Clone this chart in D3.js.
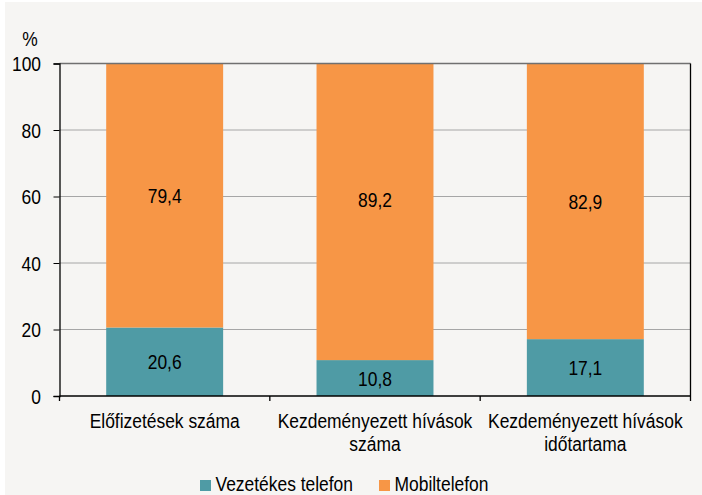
<!DOCTYPE html>
<html>
<head>
<meta charset="utf-8">
<script src="https://cdn.jsdelivr.net/npm/d3@7"></script>
<style>
  body { margin: 0; background: #fff; }
  svg text { font-family: "Liberation Sans", Arial, sans-serif; fill: #000; }
</style>
</head>
<body>
<div class="container"></div>
<script>
// data
const categories = [
  ["Előfizetések száma"],
  ["Kezdeményezett hívások", "száma"],
  ["Kezdeményezett hívások", "időtartama"]
]
const seriesNames = ["Vezetékes telefon", "Mobiltelefon"]
const vezetekes = [20.6, 10.8, 17.1]
const mobil = [79.4, 89.2, 82.9]
const yTicks = [0, 20, 40, 60, 80, 100]
const colors = ["#4f9ba5", "#f79646"]

const W = 702, H = 495
const margin = { left: 59.5, right: 11.5, top: 63.5, bottom: 99 }
const FS = 21, SX = 0.83   // text looks narrow in the original

const svg = d3.select('.container')
  .append('svg')
  .attr('width', W)
  .attr('height', H)

svg.append('rect')
  .attr('x', 5).attr('y', 2)
  .attr('width', W - 5).attr('height', H - 2)
  .attr('fill', '#f6f5f3')

// narrow text: a g at the anchor point, squeezed horizontally
function label(parent, px, py, lines, anchor, lh) {
  const t = parent.append('g')
    .attr('transform', `translate(${px},${py}) scale(${SX},1)`)
    .append('text')
    .attr('text-anchor', anchor)
    .attr('font-size', FS)
  t.selectAll('tspan')
    .data(lines)
    .join('tspan')
    .attr('x', 0)
    .attr('y', (d, j) => j * (lh || 0))
    .text(d => d)
  return t
}

const x = d3.scaleBand()
  .domain(d3.range(categories.length))
  .range([margin.left, W - margin.right])
  .paddingInner(0.444)
  .paddingOuter(0.222)

const y = d3.scaleLinear()
  .domain([0, 100])
  .range([H - margin.bottom, margin.top])

// gridlines
svg.append('g')
  .selectAll('line')
  .data(yTicks.filter(d => d > 0 && d < 100))
  .join('line')
  .attr('x1', margin.left).attr('x2', W - margin.right)
  .attr('y1', d => y(d)).attr('y2', d => y(d))
  .attr('stroke', '#a6a6a6').attr('stroke-width', 1)

// stacked bars
const rows = categories.map((c, i) => ({ i, v: vezetekes[i], m: mobil[i] }))
const stack = d3.stack().keys(['v', 'm'])(rows)

const layers = svg.append('g')
  .selectAll('g')
  .data(stack)
  .join('g')
  .attr('fill', (d, i) => colors[i])

layers.selectAll('rect')
  .data(d => d)
  .join('rect')
  .attr('x', d => x(d.data.i))
  .attr('width', x.bandwidth())
  .attr('y', d => y(d[1]))
  .attr('height', d => y(d[0]) - y(d[1]))

// the 89,2 label sits a bit higher than its segment middle in the original
const nudge = (k, i) => (k === 'm' && i === 1) ? -12 : 0

const valLabels = svg.append('g')
stack.forEach(layer => {
  layer.forEach(d => {
    label(valLabels, x(d.data.i) + x.bandwidth() / 2,
      y((d[0] + d[1]) / 2) + 7.5 + nudge(layer.key, d.data.i),
      [(d[1] - d[0]).toFixed(1).replace('.', ',')], 'middle')
  })
})

// plot frame top and right
svg.append('line')
  .attr('x1', margin.left).attr('x2', W - margin.right)
  .attr('y1', y(100)).attr('y2', y(100))
  .attr('stroke', '#707070').attr('stroke-width', 1.3)
svg.append('line')
  .attr('x1', W - margin.right).attr('x2', W - margin.right)
  .attr('y1', y(100)).attr('y2', y(0))
  .attr('stroke', '#000').attr('stroke-width', 1.3)

// y axis
const yAxis = svg.append('g')
  .attr('transform', `translate(${margin.left},0)`)
  .call(d3.axisLeft(y).tickValues(yTicks).tickSize(6).tickFormat(''))
yAxis.select('.domain').attr('stroke', '#000').attr('stroke-width', 1.3)
yAxis.selectAll('.tick line').attr('stroke', '#000')

const yLabels = svg.append('g')
yTicks.forEach(t => label(yLabels, margin.left - 18.5, y(t) + 7.5, [String(t)], 'end'))

label(svg, 30, 46, ['%'], 'middle')

// x axis
const step = (W - margin.right - margin.left) / categories.length
const xAxis = svg.append('g')
  .attr('transform', `translate(0,${y(0)})`)
xAxis.append('line')
  .attr('x1', margin.left).attr('x2', W - margin.right)
  .attr('stroke', '#000').attr('stroke-width', 1.3)
xAxis.selectAll('.tk')
  .data(d3.range(categories.length + 1))
  .join('line')
  .attr('class', 'tk')
  .attr('x1', i => margin.left + i * step).attr('x2', i => margin.left + i * step)
  .attr('y1', 0).attr('y2', 5)
  .attr('stroke', '#000').attr('stroke-width', 1.3)

categories.forEach((lines, i) => {
  label(xAxis, x(i) + x.bandwidth() / 2, 32, lines, 'middle', 23.5)
})

// legend
const legend = svg.append('g')
  .attr('transform', 'translate(200,480)')
const legX = [0, 179]
seriesNames.forEach((name, i) => {
  const g = legend.append('g').attr('transform', `translate(${legX[i]},0)`)
  g.append('rect').attr('width', 11).attr('height', 11).attr('fill', colors[i])
  label(g, 15.5, 11, [name], 'start')
})
</script>
</body>
</html>
